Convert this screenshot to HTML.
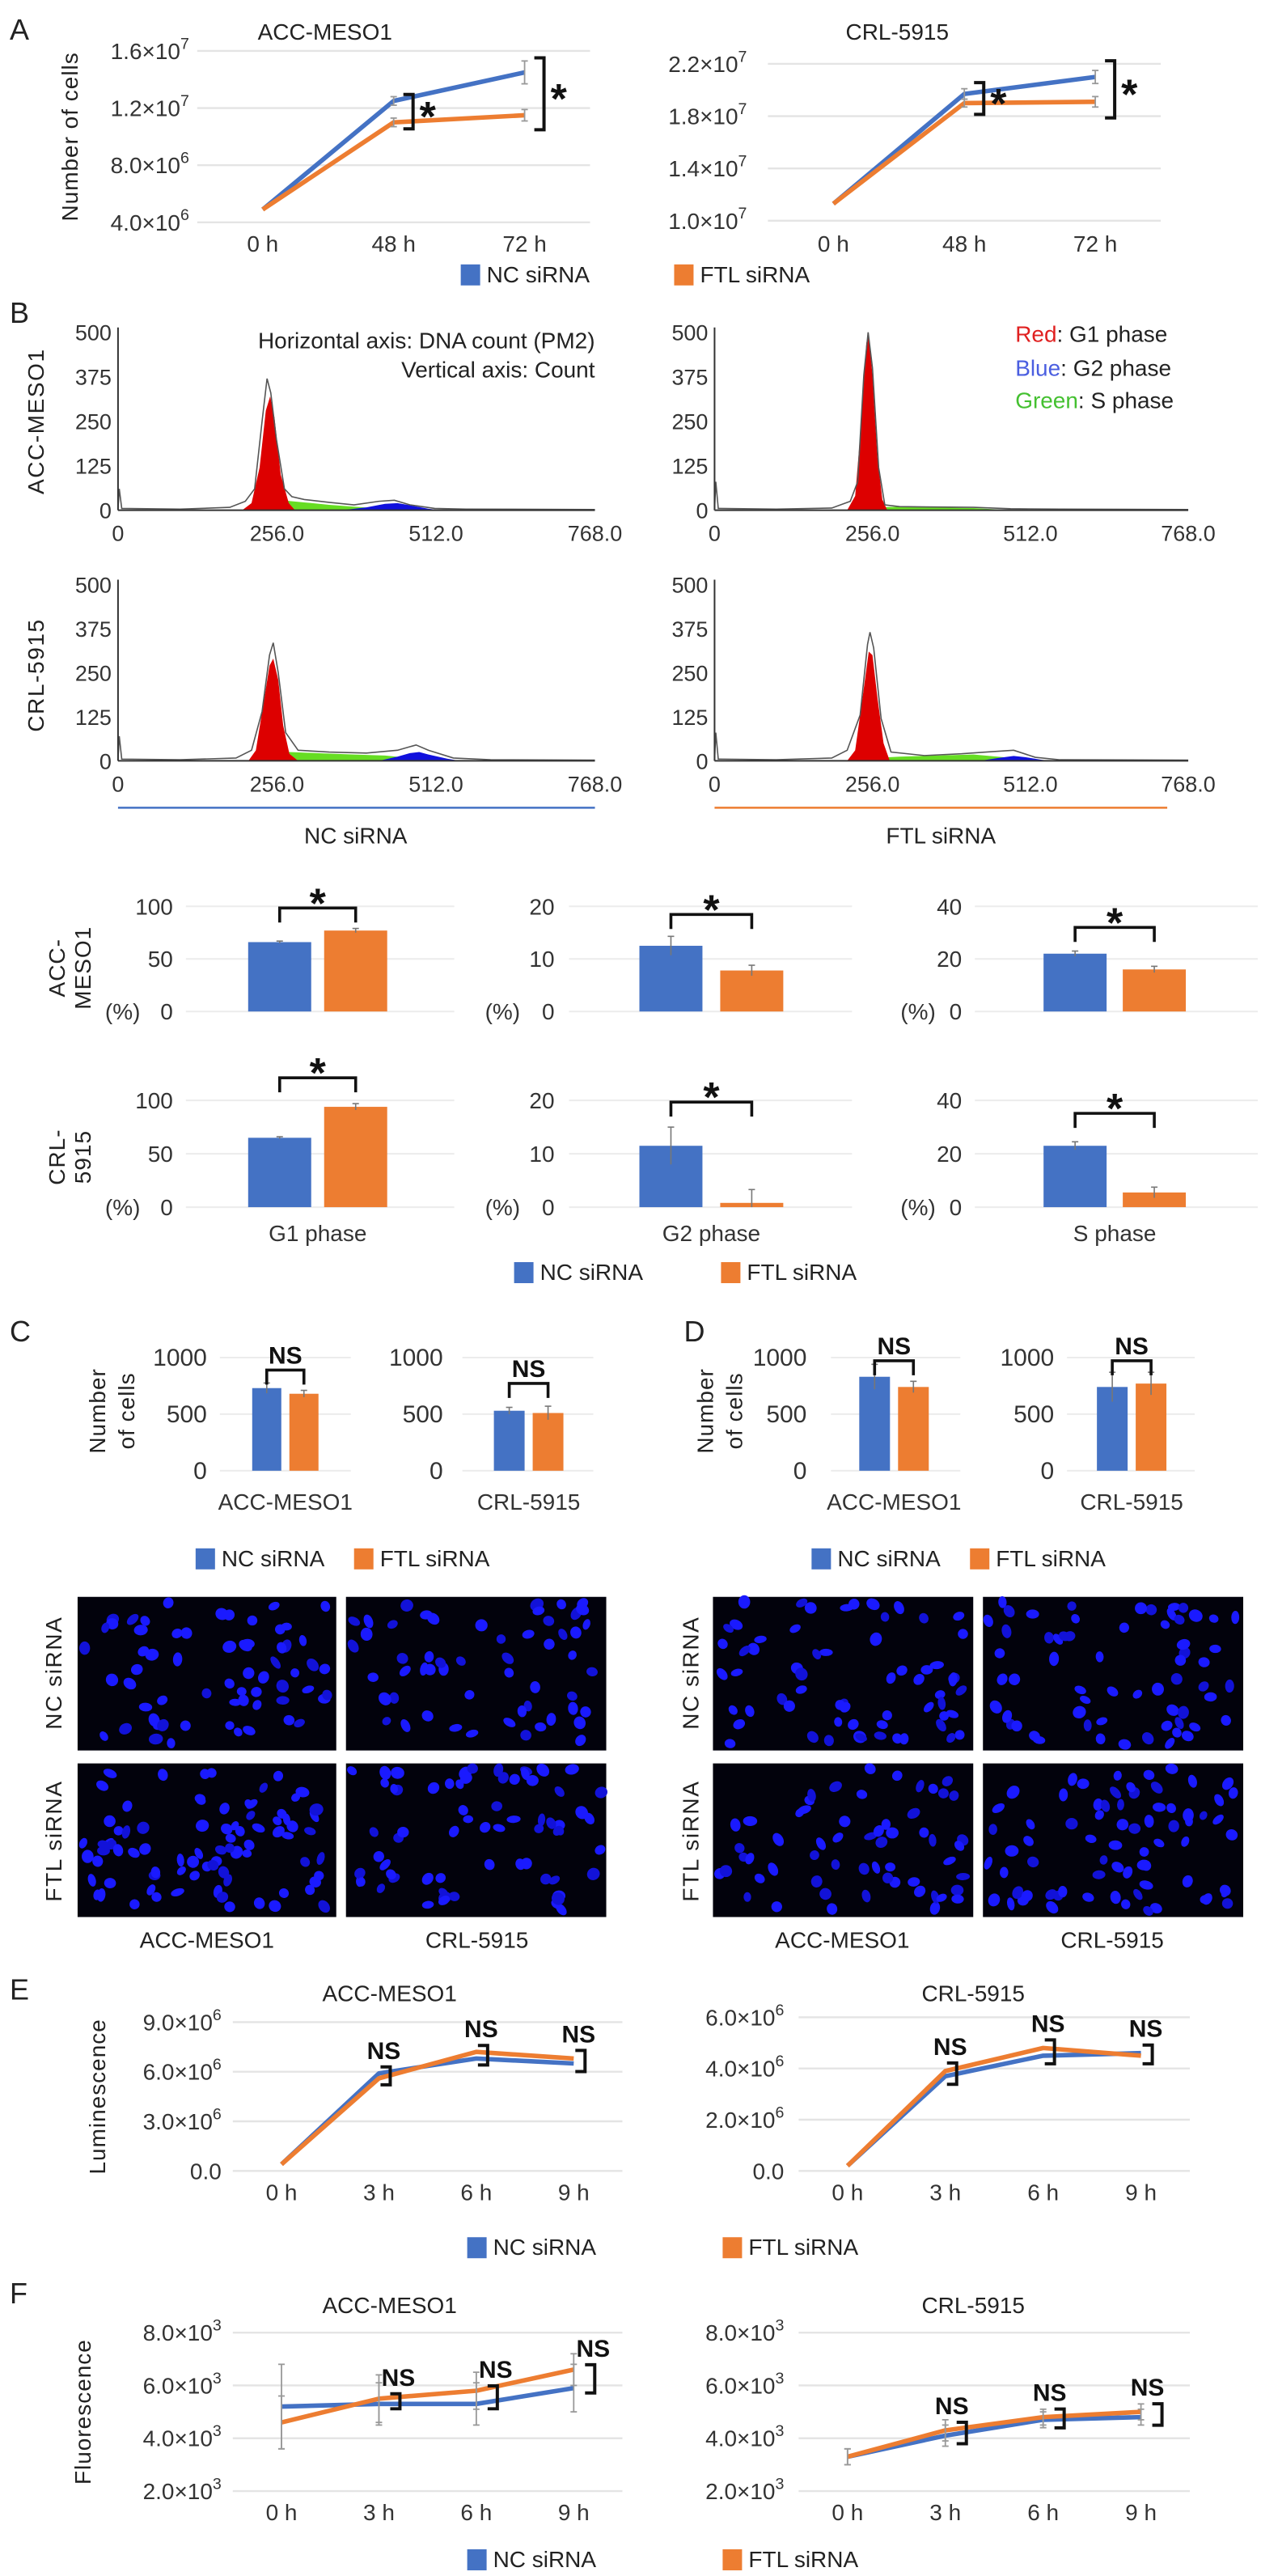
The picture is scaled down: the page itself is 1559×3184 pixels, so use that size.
<!DOCTYPE html>
<html><head><meta charset="utf-8"><style>
html,body{margin:0;padding:0;background:#fff;}
svg{display:block;font-family:"Liberation Sans",Arial,sans-serif;}
</style></head><body>
<svg id="fig" width="1559" height="3184" viewBox="0 0 780 1592" xmlns="http://www.w3.org/2000/svg"></svg>
<script>
// ---------- DATA ----------
const aCats=['0 h','48 h','72 h'];
const aAccNC=[4.9e6,1.25e7,1.45e7];
const aAccFTL=[4.9e6,1.1e7,1.15e7];
const aAccNCerr=[0,3e5,8e5];
const aAccFTLerr=[0,3e5,4e5];
const aCrlNC=[1.13e7,1.97e7,2.1e7];
const aCrlFTL=[1.13e7,1.9e7,1.91e7];
const aCrlNCerr=[0,4e5,5e5];
const aCrlFTLerr=[0,3e5,4e5];
const aAccTicks=[4e6,8e6,1.2e7,1.6e7];
const aAccTickM=['4.0','8.0','1.2','1.6'];
const aAccTickE=['6','6','7','7'];
const aCrlTicks=[1e7,1.4e7,1.8e7,2.2e7];
const aCrlTickM=['1.0','1.4','1.8','2.2'];
const aCrlTickE=['7','7','7','7'];

const histTicksY=[0,125,250,375,500];
const histTicksX=[0,256,512,768];
const histTickXLabels=['0','256.0','512.0','768.0'];
const h1Red=[[200,0],[215,20],[228,120],[238,280],[245,320],[252,260],[262,100],[275,20],[285,0]];
const h1Green=[[215,0],[240,18],[262,28],[300,22],[340,15],[380,10],[420,5],[470,0]];
const h1Blue=[[360,0],[400,8],[430,18],[450,20],[470,14],[500,4],[520,0]];
const h1Out=[[0,2],[2,60],[6,5],[100,3],[180,8],[205,25],[220,60],[232,250],[240,370],[246,330],[255,200],[268,60],[280,38],[300,30],[340,22],[380,15],[420,25],[445,28],[470,15],[510,5],[560,3],[768,2]];
const h2Red=[[215,0],[228,40],[238,250],[246,470],[250,490],[256,380],[264,150],[272,30],[280,0]];
const h2Green=[[240,0],[265,8],[300,10],[360,8],[420,6],[480,0]];
const h2Blue=[[420,0],[440,2],[460,0]];
const h2Out=[[0,2],[2,80],[6,5],[100,3],[190,6],[220,25],[232,80],[242,380],[249,500],[256,400],[266,120],[276,15],[300,10],[360,9],[420,8],[480,4],[560,3],[768,2]];
const h3Red=[[210,0],[222,30],[234,160],[244,270],[250,290],[258,230],[266,100],[276,20],[290,0]];
const h3Green=[[220,0],[250,18],[275,25],[320,22],[380,18],[430,15],[470,8],[510,0]];
const h3Blue=[[420,0],[450,12],[470,22],[485,25],[500,18],[530,6],[550,0]];
const h3Out=[[0,2],[2,70],[6,5],[100,3],[190,8],[215,30],[232,140],[244,300],[250,335],[258,250],[270,80],[290,30],[340,25],[400,22],[450,30],[480,45],[500,30],[540,8],[600,3],[768,2]];
const h4Red=[[215,0],[228,30],[240,180],[250,310],[256,300],[264,180],[274,50],[284,0]];
const h4Green=[[230,0],[260,8],[300,12],[360,15],[420,18],[470,10],[510,0]];
const h4Blue=[[430,0],[460,8],[485,14],[505,10],[530,3],[545,0]];
const h4Out=[[0,2],[2,80],[6,5],[100,3],[190,8],[215,30],[236,130],[248,330],[252,365],[258,320],[270,120],[286,25],[340,15],[400,20],[440,25],[485,30],[520,10],[560,3],[768,2]];

const bPhases=['G1 phase','G2 phase','S phase'];
const bAccNC=[66,12.5,22];
const bAccFTL=[77,7.8,16];
const bAccNCerr=[1,1.8,1];
const bAccFTLerr=[2,1,1.2];
const bCrlNC=[65,11.5,23];
const bCrlFTL=[94,0.8,5.5];
const bCrlNCerr=[1,3.5,1.5];
const bCrlFTLerr=[3,2.5,2];
const bMax=[100,20,40];
const bTicks=[[0,50,100],[0,10,20],[0,20,40]];

const cCats=['ACC-MESO1','CRL-5915'];
const cNC=[730,530];
const cFTL=[680,510];
const cNCerr=[45,30];
const cFTLerr=[30,60];
const dNC=[830,740];
const dFTL=[740,770];
const dNCerr=[110,130];
const dFTLerr=[50,100];
const cdTicks=[0,500,1000];

const eCats=['0 h','3 h','6 h','9 h'];
const eAccNC=[0.4e6,5.9e6,6.8e6,6.5e6];
const eAccFTL=[0.4e6,5.6e6,7.2e6,6.8e6];
const eCrlNC=[0.2e6,3.7e6,4.5e6,4.6e6];
const eCrlFTL=[0.2e6,3.9e6,4.8e6,4.5e6];
const eAccTicks=[0,3e6,6e6,9e6];
const eAccTickM=['0.0','3.0','6.0','9.0'];
const eCrlTicks=[0,2e6,4e6,6e6];
const eCrlTickM=['0.0','2.0','4.0','6.0'];

const fAccNC=[5.2e3,5.3e3,5.3e3,5.9e3];
const fAccFTL=[4.6e3,5.5e3,5.8e3,6.6e3];
const fAccNCerr=[1.6e3,0.8e3,0.8e3,0.9e3];
const fAccFTLerr=[1.0e3,0.9e3,0.7e3,0.6e3];
const fCrlNC=[3.3e3,4.1e3,4.7e3,4.8e3];
const fCrlFTL=[3.3e3,4.3e3,4.8e3,5.0e3];
const fCrlNCerr=[0.3e3,0.4e3,0.3e3,0.3e3];
const fCrlFTLerr=[0.3e3,0.4e3,0.3e3,0.3e3];
const fTicks=[2e3,4e3,6e3,8e3];
const fTickM=['2.0','4.0','6.0','8.0'];

// ---------- HELPERS ----------
const NS='http://www.w3.org/2000/svg';
const svg=document.getElementById('fig');
const BLUE='#4472c4', ORANGE='#ed7d31';
const FS=14;
function mk(tag,attrs,parent,name){
  const e=document.createElementNS(NS,tag);
  for(const k in attrs) e.setAttribute(k,attrs[k]);
  
  
  (parent||svg).appendChild(e);
  return e;
}
function txt(x,y,s,size,parent,name,extra){
  const a=Object.assign({x:x,y:y,'font-size':size,fill:'#222'},extra||{});
  const t=mk('text',a,parent,name);
  t.textContent=s;
  return t;
}
function sci(x,y,m,e,parent,name,size){
  const t=mk('text',{x:x,y:y,'font-size':size,fill:'#333','text-anchor':'end'},parent,name);
  const t1=document.createElementNS(NS,'tspan');t1.textContent=m+'×10';t.appendChild(t1);
  const t2=document.createElementNS(NS,'tspan');t2.setAttribute('dy',-size*0.45);t2.setAttribute('font-size',size*0.7);t2.textContent=e;t.appendChild(t2);
  return t;
}
function legend(x1,x2,y,g){
  mk('rect',{x:x1,y:y-6,width:12,height:13,fill:BLUE},g,'legend-swatch-nc');
  txt(x1+16,y+5,'NC siRNA',FS,g,'legend-label-nc');
  mk('rect',{x:x2,y:y-6,width:12,height:13,fill:ORANGE},g,'legend-swatch-ftl');
  txt(x2+16,y+5,'FTL siRNA',FS,g,'legend-label-ftl');
}

function lineChart(o){
  const g=mk('g',{},svg,o.name);
  const ys=v=>o.yBot-(v-o.vmin)/(o.vmax-o.vmin)*(o.yBot-o.yTop);
  const band=(o.x1-o.x0)/o.cats.length;
  const xs=i=>o.x0+band*(i+0.5);
  txt(o.titleX,o.titleY,o.title,FS,g,'chart-title',{'text-anchor':'middle'});
  o.ticks.forEach((v,i)=>{
    mk('line',{x1:o.x0,x2:o.x1,y1:ys(v),y2:ys(v),stroke:'#e4e4e4','stroke-width':1.2},g,'gridline');
    if(o.tickE[i]!==null) sci(o.lx,ys(v)+5,o.tickM[i],o.tickE[i],g,'y-tick-label',FS);
    else txt(o.lx,ys(v)+5,o.tickM[i],FS,g,'y-tick-label',{'text-anchor':'end',fill:'#333'});
  });
  o.cats.forEach((c,i)=>txt(xs(i),o.xly,c,FS,g,'x-tick-label',{'text-anchor':'middle',fill:'#333'}));
  if(o.ytitle){
    txt(0,0,o.ytitle,FS,g,'y-axis-title',{'text-anchor':'middle',transform:`translate(${o.ytx},${(o.yTop+o.yBot)/2}) rotate(-90)`,'letter-spacing':'0.5'});
  }
  [[o.nc,o.ncErr,BLUE,'nc'],[o.ftl,o.ftlErr,ORANGE,'ftl']].forEach(([vals,err,col,n])=>{
    mk('polyline',{points:vals.map((v,i)=>xs(i)+','+ys(v)).join(' '),fill:'none',stroke:col,'stroke-width':2.8,'stroke-linejoin':'round'},g,'line-'+n);
    if(err) vals.forEach((v,i)=>{ if(err[i]>0){
      mk('line',{x1:xs(i),x2:xs(i),y1:ys(v+err[i]),y2:ys(v-err[i]),stroke:'#999','stroke-width':0.9},g,'error-bar-'+n);
      mk('line',{x1:xs(i)-2,x2:xs(i)+2,y1:ys(v+err[i]),y2:ys(v+err[i]),stroke:'#999','stroke-width':0.9},g,'error-cap-'+n);
      mk('line',{x1:xs(i)-2,x2:xs(i)+2,y1:ys(v-err[i]),y2:ys(v-err[i]),stroke:'#999','stroke-width':0.9},g,'error-cap-'+n);
    }});
  });
  (o.brackets||[]).forEach(b=>{
    const i=b.i;
    const top=Math.min(ys(o.nc[i]),ys(o.ftl[i]))-b.pad, bot=Math.max(ys(o.nc[i]),ys(o.ftl[i]))+b.pad;
    const bx=xs(i)+b.dx;
    mk('path',{d:`M${bx},${top} H${bx+6} V${bot} H${bx}`,fill:'none',stroke:'#111','stroke-width':2},g,'significance-bracket');
    if(b.star) txt(bx+10,(top+bot)/2+12,'*',26,g,'significance-star',{'font-weight':'bold',fill:'#111'});
    else txt(xs(i)+b.nx,top-5,'NS',15,g,'ns-label',{'font-weight':'bold',fill:'#111','text-anchor':'middle'});
  });
  return g;
}

function hist(o){
  const g=mk('g',{},svg,o.name);
  const X=c=>o.x0+c/768*(o.x1-o.x0);
  const Y=c=>o.y0-c/500*(o.y0-o.y1);
  const poly=(pts,col,n)=>mk('polygon',{points:pts.map(p=>X(p[0])+','+Y(p[1])).join(' '),fill:col,stroke:'none'},g,n);
  poly(o.green,'#66dd22','s-phase-area');
  poly(o.blue,'#1010dd','g2-phase-area');
  poly(o.red,'#dd0000','g1-phase-area');
  mk('polyline',{points:o.out.map(p=>X(p[0])+','+Y(p[1])).join(' '),fill:'none',stroke:'#555','stroke-width':0.8},g,'histogram-outline');
  mk('line',{x1:o.x0,x2:o.x0,y1:o.y1-3,y2:o.y0,stroke:'#333','stroke-width':1},g,'y-axis');
  mk('line',{x1:o.x0,x2:o.x1,y1:o.y0,y2:o.y0,stroke:'#333','stroke-width':1},g,'x-axis');
  histTicksY.forEach(v=>txt(o.x0-4,Y(v)+5,String(v),13.5,g,'y-tick-label',{'text-anchor':'end',fill:'#333'}));
  histTicksX.forEach((v,i)=>txt(X(v),o.y0+19,histTickXLabels[i],13.5,g,'x-tick-label',{'text-anchor':'middle',fill:'#333'}));
  return g;
}

function barPair(o){
  const g=mk('g',{},svg,o.name);
  const ys=v=>o.yBot-v/o.vmax*(o.yBot-o.yTop);
  o.ticks.forEach(v=>{
    mk('line',{x1:o.gx0,x2:o.gx1,y1:ys(v),y2:ys(v),stroke:'#ececec','stroke-width':1},g,'gridline');
    txt(o.lx,ys(v)+5,String(v),o.fs,g,'y-tick-label',{'text-anchor':'end',fill:'#333'});
  });
  [[o.nc,o.ncErr,o.cx1,BLUE,'nc'],[o.ftl,o.ftlErr,o.cx2,ORANGE,'ftl']].forEach(([v,e,cx,col,n])=>{
    mk('rect',{x:cx-o.bw/2,y:ys(v),width:o.bw,height:o.yBot-ys(v),fill:col},g,'bar-'+n);
    mk('line',{x1:cx,x2:cx,y1:ys(v+e),y2:ys(Math.max(0,v-e)),stroke:'#777','stroke-width':0.8},g,'error-bar-'+n);
    mk('line',{x1:cx-2,x2:cx+2,y1:ys(v+e),y2:ys(v+e),stroke:'#777','stroke-width':0.8},g,'error-cap-'+n);
  });
  const by=o.bracketY!==undefined?o.bracketY:Math.min(ys(o.nc+o.ncErr),ys(o.ftl+o.ftlErr))-8;
  mk('path',{d:`M${o.cx1},${by+9} V${by} H${o.cx2} V${by+9}`,fill:'none',stroke:'#111','stroke-width':1.8},g,'significance-bracket');
  if(o.star) txt((o.cx1+o.cx2)/2,by+6,'*',26,g,'significance-star',{'text-anchor':'middle','font-weight':'bold',fill:'#111'});
  else txt((o.cx1+o.cx2)/2,by-4,'NS',15,g,'ns-label',{'text-anchor':'middle','font-weight':'bold',fill:'#111'});
  if(o.pct) txt(o.pctX,o.yBot+5,'(%)',o.fs,g,'percent-label',{fill:'#333'});
  if(o.cat) txt((o.cx1+o.cx2)/2,o.catY,o.cat,FS,g,'x-category-label',{'text-anchor':'middle',fill:'#333'});
  return g;
}

// ---------- PANEL A ----------
txt(6,24,'A',18,svg,'panel-label-a');
lineChart({name:'chart-a-acc',x0:122,x1:365,yTop:31,yBot:137,vmin:4e6,vmax:1.6e7,ticks:aAccTicks,tickM:aAccTickM,tickE:aAccTickE,lx:117,cats:aCats,xly:155,nc:aAccNC,ftl:aAccFTL,ncErr:aAccNCerr,ftlErr:aAccFTLerr,title:'ACC-MESO1',titleX:201,titleY:24,ytitle:'Number of cells',ytx:48,
  brackets:[{i:1,dx:6,pad:4,star:1},{i:2,dx:6,pad:9,star:1}]});
lineChart({name:'chart-a-crl',x0:475,x1:718,yTop:39,yBot:136,vmin:1e7,vmax:2.2e7,ticks:aCrlTicks,tickM:aCrlTickM,tickE:aCrlTickE,lx:462,cats:aCats,xly:155,nc:aCrlNC,ftl:aCrlFTL,ncErr:aCrlNCerr,ftlErr:aCrlFTLerr,title:'CRL-5915',titleX:555,titleY:24,
  brackets:[{i:1,dx:6,pad:7,star:1},{i:2,dx:6,pad:10,star:1}]});
legend(285,417,169,mk('g',{},svg,'legend-a'));

// ---------- PANEL B ----------
txt(6,199,'B',18,svg,'panel-label-b');
hist({name:'histogram-acc-nc',x0:73,x1:368,y0:315,y1:205,red:h1Red,green:h1Green,blue:h1Blue,out:h1Out});
hist({name:'histogram-acc-ftl',x0:442,x1:735,y0:315,y1:205,red:h2Red,green:h2Green,blue:h2Blue,out:h2Out});
hist({name:'histogram-crl-nc',x0:73,x1:368,y0:470,y1:361,red:h3Red,green:h3Green,blue:h3Blue,out:h3Out});
hist({name:'histogram-crl-ftl',x0:442,x1:735,y0:470,y1:361,red:h4Red,green:h4Green,blue:h4Blue,out:h4Out});
txt(368,215,'Horizontal axis: DNA count (PM2)',14,svg,'axis-note-horizontal',{'text-anchor':'end',fill:'#222'});
txt(368,233,'Vertical axis: Count',14,svg,'axis-note-vertical',{'text-anchor':'end',fill:'#222'});
(function(){
  const t1=txt(628,211,'',14,svg,'legend-g1');t1.innerHTML='<tspan fill="#e02020">Red</tspan>: G1 phase';
  const t2=txt(628,232,'',14,svg,'legend-g2');t2.innerHTML='<tspan fill="#4a5ee0">Blue</tspan>: G2 phase';
  const t3=txt(628,252,'',14,svg,'legend-s');t3.innerHTML='<tspan fill="#44c030">Green</tspan>: S phase';
})();
txt(0,0,'ACC-MESO1',14,svg,'row-label-acc',{'text-anchor':'middle',transform:'translate(27,260) rotate(-90)','letter-spacing':'0.8'});
txt(0,0,'CRL-5915',14,svg,'row-label-crl',{'text-anchor':'middle',transform:'translate(27,417) rotate(-90)','letter-spacing':'0.8'});
mk('line',{x1:73,x2:368,y1:499,y2:499,stroke:BLUE,'stroke-width':1.3},svg,'nc-underline');
txt(220,521,'NC siRNA',FS,svg,'nc-group-label',{'text-anchor':'middle'});
mk('line',{x1:442,x2:722,y1:499,y2:499,stroke:ORANGE,'stroke-width':1.3},svg,'ftl-underline');
txt(582,521,'FTL siRNA',FS,svg,'ftl-group-label',{'text-anchor':'middle'});

const bCx=[[173,220],[415,465],[665,714]];
const bLx=[107,343,595];
const bPct=[65,300,557];
const bGrid=[[115,281],[352,527],[603,778]];
const bBr1=[561,565,573];
const bBr2=[666,681,688];
[0,1,2].forEach(k=>{
  barPair({name:'bar-acc-'+bPhases[k].replace(' ','-').toLowerCase(),yTop:560,yBot:625,vmax:bMax[k],ticks:bTicks[k],lx:bLx[k],nc:bAccNC[k],ftl:bAccFTL[k],ncErr:bAccNCerr[k],ftlErr:bAccFTLerr[k],cx1:bCx[k][0],cx2:bCx[k][1],bw:39,gx0:bGrid[k][0],gx1:bGrid[k][1],bracketY:bBr1[k],star:1,pct:1,pctX:bPct[k],fs:14});
  barPair({name:'bar-crl-'+bPhases[k].replace(' ','-').toLowerCase(),yTop:680,yBot:746,vmax:bMax[k],ticks:bTicks[k],lx:bLx[k],nc:bCrlNC[k],ftl:bCrlFTL[k],ncErr:bCrlNCerr[k],ftlErr:bCrlFTLerr[k],cx1:bCx[k][0],cx2:bCx[k][1],bw:39,gx0:bGrid[k][0],gx1:bGrid[k][1],bracketY:bBr2[k],star:1,pct:1,pctX:bPct[k],cat:bPhases[k],catY:767,fs:14});
});
txt(0,0,'ACC-',14,svg,'row-label-acc-bar',{'text-anchor':'middle',transform:'translate(40,598) rotate(-90)','letter-spacing':'0.5'});
txt(0,0,'MESO1',14,svg,'row-label-acc-bar-2',{'text-anchor':'middle',transform:'translate(56,598) rotate(-90)','letter-spacing':'0.5'});
txt(0,0,'CRL-',14,svg,'row-label-crl-bar',{'text-anchor':'middle',transform:'translate(40,715) rotate(-90)','letter-spacing':'0.5'});
txt(0,0,'5915',14,svg,'row-label-crl-bar-2',{'text-anchor':'middle',transform:'translate(56,715) rotate(-90)','letter-spacing':'0.5'});
legend(318,446,786,mk('g',{},svg,'legend-b'));

// ---------- PANELS C & D ----------
txt(6,829,'C',18,svg,'panel-label-c');
txt(423,829,'D',18,svg,'panel-label-d');
barPair({name:'bar-c-acc',yTop:839,yBot:909,vmax:1000,ticks:cdTicks,lx:128,nc:cNC[0],ftl:cFTL[0],ncErr:cNCerr[0],ftlErr:cFTLerr[0],cx1:165,cx2:188,bw:18,gx0:136,gx1:217,cat:cCats[0],catY:933,fs:15});
barPair({name:'bar-c-crl',yTop:839,yBot:909,vmax:1000,ticks:cdTicks,lx:274,nc:cNC[1],ftl:cFTL[1],ncErr:cNCerr[1],ftlErr:cFTLerr[1],cx1:315,cx2:339,bw:19,gx0:286,gx1:367,cat:cCats[1],catY:933,fs:15,bracketY:855});
barPair({name:'bar-d-acc',yTop:839,yBot:909,vmax:1000,ticks:cdTicks,lx:499,nc:dNC[0],ftl:dFTL[0],ncErr:dNCerr[0],ftlErr:dFTLerr[0],cx1:541,cx2:565,bw:19,gx0:514,gx1:594,cat:cCats[0],catY:933,fs:15,bracketY:841});
barPair({name:'bar-d-crl',yTop:839,yBot:909,vmax:1000,ticks:cdTicks,lx:652,nc:dNC[1],ftl:dFTL[1],ncErr:dNCerr[1],ftlErr:dFTLerr[1],cx1:688,cx2:712,bw:19,gx0:660,gx1:739,cat:cCats[1],catY:933,fs:15,bracketY:841});
[[60,'c'],[436,'d']].forEach(([x,n])=>{
  txt(0,0,'Number',14,svg,'y-axis-title-'+n,{'text-anchor':'middle',transform:`translate(${x+5},872) rotate(-90)`,'letter-spacing':'0.5'});
  txt(0,0,'of cells',14,svg,'y-axis-title-'+n+'-2',{'text-anchor':'middle',transform:`translate(${x+23},872) rotate(-90)`,'letter-spacing':'0.5'});
});
legend(121,219,963,mk('g',{},svg,'legend-c'));
legend(502,600,963,mk('g',{},svg,'legend-d'));

let seed=12345;
function rnd(){seed=(seed*1103515245+12345)%2147483648;return seed/2147483648;}
function micro(x,y,w,h,name,count){
  const g=mk('g',{},svg,name);
  mk('rect',{x:x,y:y,width:w,height:h,fill:'#02020c'},g,'image-background');
  for(let i=0;i<count;i++){
    const cx=x+3+rnd()*(w-6), cy=y+3+rnd()*(h-6);
    mk('ellipse',{cx:cx,cy:cy,rx:2.2+rnd()*1.6,ry:2.8+rnd()*1.6,fill:rnd()<0.7?'#1a1aff':'#1212d8',transform:`rotate(${rnd()*180},${cx},${cy})`},g,'nucleus');
  }
}
micro(48,987,160,95,'image-c-nc-acc',62);
micro(214,987,161,95,'image-c-nc-crl',55);
micro(48,1090,160,95,'image-c-ftl-acc',82);
micro(214,1090,161,95,'image-c-ftl-crl',66);
micro(441,987,161,95,'image-d-nc-acc',62);
micro(608,987,161,95,'image-d-nc-crl',62);
micro(441,1090,161,95,'image-d-ftl-acc',58);
micro(608,1090,161,95,'image-d-ftl-crl',72);
[[38,'c'],[432,'d']].forEach(([x,n])=>{
  txt(0,0,'NC siRNA',14,svg,'row-label-nc-'+n,{'text-anchor':'middle',transform:`translate(${x},1034) rotate(-90)`,'letter-spacing':'0.8'});
  txt(0,0,'FTL siRNA',14,svg,'row-label-ftl-'+n,{'text-anchor':'middle',transform:`translate(${x},1138) rotate(-90)`,'letter-spacing':'0.8'});
});
txt(128,1204,'ACC-MESO1',FS,svg,'col-label-c-acc',{'text-anchor':'middle'});
txt(295,1204,'CRL-5915',FS,svg,'col-label-c-crl',{'text-anchor':'middle'});
txt(521,1204,'ACC-MESO1',FS,svg,'col-label-d-acc',{'text-anchor':'middle'});
txt(688,1204,'CRL-5915',FS,svg,'col-label-d-crl',{'text-anchor':'middle'});

// ---------- PANEL E ----------
txt(6,1236,'E',18,svg,'panel-label-e');
lineChart({name:'chart-e-acc',x0:144,x1:385,yTop:1250,yBot:1342,vmin:0,vmax:9e6,ticks:eAccTicks,tickM:eAccTickM,tickE:[null,'6','6','6'],lx:137,cats:eCats,xly:1360,nc:eAccNC,ftl:eAccFTL,title:'ACC-MESO1',titleX:241,titleY:1237,ytitle:'Luminescence',ytx:65,
  brackets:[{i:1,dx:1,pad:4,nx:3},{i:2,dx:1,pad:4,nx:3},{i:3,dx:1,pad:5,nx:3}]});
lineChart({name:'chart-e-crl',x0:494,x1:736,yTop:1247,yBot:1342,vmin:0,vmax:6e6,ticks:eCrlTicks,tickM:eCrlTickM,tickE:[null,'6','6','6'],lx:485,cats:eCats,xly:1360,nc:eCrlNC,ftl:eCrlFTL,title:'CRL-5915',titleX:602,titleY:1237,
  brackets:[{i:1,dx:1,pad:5,nx:3},{i:2,dx:1,pad:5,nx:3},{i:3,dx:1,pad:5,nx:3}]});
legend(289,447,1389,mk('g',{},svg,'legend-e'));

// ---------- PANEL F ----------
txt(6,1424,'F',18,svg,'panel-label-f');
lineChart({name:'chart-f-acc',x0:144,x1:385,yTop:1442,yBot:1540,vmin:2e3,vmax:8e3,ticks:fTicks,tickM:fTickM,tickE:['3','3','3','3'],lx:137,cats:eCats,xly:1558,nc:fAccNC,ftl:fAccFTL,ncErr:fAccNCerr,ftlErr:fAccFTLerr,title:'ACC-MESO1',titleX:241,titleY:1430,ytitle:'Fluorescence',ytx:56,
  brackets:[{i:1,dx:7,pad:3,nx:12},{i:2,dx:7,pad:3,nx:12},{i:3,dx:7,pad:3,nx:12}]});
lineChart({name:'chart-f-crl',x0:494,x1:736,yTop:1442,yBot:1540,vmin:2e3,vmax:8e3,ticks:fTicks,tickM:fTickM,tickE:['3','3','3','3'],lx:485,cats:eCats,xly:1558,nc:fCrlNC,ftl:fCrlFTL,ncErr:fCrlNCerr,ftlErr:fCrlFTLerr,title:'CRL-5915',titleX:602,titleY:1430,
  brackets:[{i:1,dx:7,pad:5,nx:4},{i:2,dx:7,pad:5,nx:4},{i:3,dx:7,pad:5,nx:4}]});
legend(289,447,1582,mk('g',{},svg,'legend-f'));
</script>
</body></html>
